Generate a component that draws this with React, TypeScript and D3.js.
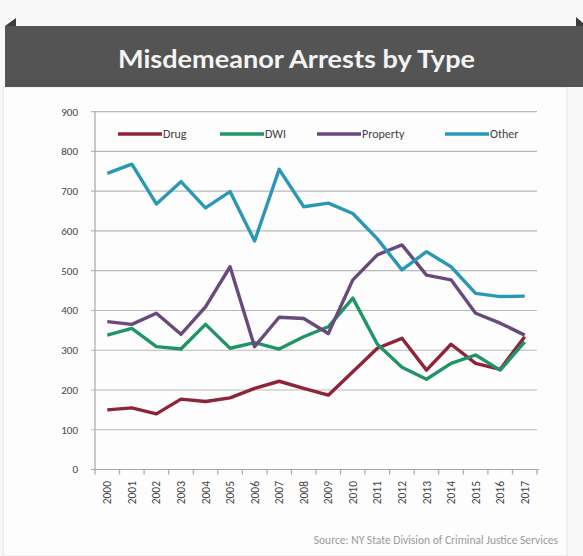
import { useEffect, useRef } from 'react';
import * as d3 from 'd3';

// Datos
const years = ['2000', '2001', '2002', '2003', '2004', '2005', '2006', '2007', '2008',
  '2009', '2010', '2011', '2012', '2013', '2014', '2015', '2016', '2017'];
const drug = [150, 155, 140, 177, 171, 180, 204, 222, 204, 187, 246, 305, 330, 250, 315, 267, 252, 334];
const dwi = [338, 355, 309, 303, 365, 305, 319, 303, 334, 359, 431, 315, 257, 227, 267, 288, 250, 321];
const property = [372, 365, 393, 340, 409, 510, 309, 383, 380, 342, 477, 540, 565, 489, 477, 393, 368, 338];
const other = [745, 768, 668, 724, 658, 699, 575, 755, 661, 670, 644, 580, 502, 548, 510, 443, 435, 436];
const yTicks = [0, 100, 200, 300, 400, 500, 600, 700, 800, 900];
const seriesNames = ['Drug', 'DWI', 'Property', 'Other'];
const seriesColors = ['#8e2438', '#1f9566', '#6a4a7c', '#2a98b4'];

const W = 583;
const H = 556;

export default function App() {
  const ref = useRef<SVGSVGElement | null>(null);

  useEffect(() => {
    const svg = d3.select(ref.current);
    svg.selectAll('*').remove();

    // fondo
    svg.append('rect').attr('width', W).attr('height', H).attr('fill', '#f8f8f8');
    svg.append('rect')
      .attr('x', 3).attr('y', 87).attr('width', 564).attr('height', H - 87)
      .attr('fill', '#fdfdfd').attr('stroke', '#e4e4e4');

    // barra de título
    svg.append('rect').attr('x', 5).attr('y', 26).attr('width', W - 5).attr('height', 61)
      .attr('fill', '#545454');
    svg.append('path').attr('d', 'M5,26 L16,18 L16,26 Z').attr('fill', '#3c3c3c');
    svg.append('path').attr('d', 'M576,26 L576,17 L583,23 L583,26 Z').attr('fill', '#3c3c3c');
    svg.append('text')
      .attr('x', 118).attr('y', 68)
      .attr('textLength', 357)
      .attr('lengthAdjust', 'spacingAndGlyphs')
      .attr('font-family', 'Lato, "Open Sans", sans-serif')
      .attr('font-weight', 700)
      .attr('font-size', 25)
      .attr('fill', '#f4f4f4')
      .text('Misdemeanor Arrests by Type');

    // Escalas
    const x = d3.scaleBand<string>().domain(years).range([95, 537]).paddingInner(0).paddingOuter(0);
    const y = d3.scaleLinear().domain([0, 900]).range([469.5, 111.7]);
    const cx = (d: string) => (x(d) as number) + x.bandwidth() / 2;

    const font = 'Carlito, "Open Sans", sans-serif';

    // rejilla y etiquetas Y
    svg.append('g').selectAll('line').data(yTicks.filter(t => t > 0)).enter().append('line')
      .attr('x1', 91).attr('x2', 537)
      .attr('y1', d => y(d)).attr('y2', d => y(d))
      .attr('stroke', '#b9b9b9').attr('stroke-width', 1.2);

    svg.append('g').selectAll('text').data(yTicks).enter().append('text')
      .attr('x', 78).attr('y', d => y(d)).attr('dy', '0.35em')
      .attr('text-anchor', 'end')
      .attr('font-family', font).attr('font-size', 11).attr('fill', '#444')
      .text(d => d);

    // ejes
    svg.append('line').attr('x1', 95).attr('x2', 95).attr('y1', y(900)).attr('y2', y(0))
      .attr('stroke', '#a8a8a8').attr('stroke-width', 1.2);
    svg.append('line').attr('x1', 91).attr('x2', 539).attr('y1', y(0)).attr('y2', y(0))
      .attr('stroke', '#a8a8a8').attr('stroke-width', 1.2);

    const edges = years.map(d => x(d) as number).concat([x.range()[1]]);
    svg.append('g').selectAll('line').data(edges).enter().append('line')
      .attr('x1', d => d).attr('x2', d => d)
      .attr('y1', y(0)).attr('y2', y(0) + 5)
      .attr('stroke', '#a8a8a8').attr('stroke-width', 1.2);

    svg.append('g').selectAll('text').data(years).enter().append('text')
      .attr('transform', d => `translate(${cx(d)},${481}) rotate(-90)`)
      .attr('dy', '0.35em')
      .attr('text-anchor', 'end')
      .attr('font-family', font).attr('font-size', 11.5).attr('fill', '#444')
      .text(d => d);

    // líneas
    const series = [drug, dwi, property, other];
    const line = d3.line<number>()
      .x((_, i) => cx(years[i]))
      .y(d => y(d));

    series.forEach((s, i) => {
      svg.append('path')
        .datum(s)
        .attr('fill', 'none')
        .attr('stroke', seriesColors[i])
        .attr('stroke-width', 3.4)
        .attr('stroke-linejoin', 'round')
        .attr('d', line);
    });

    // Leyenda
    const legendX = [118, 220, 317, 445];
    const legend = svg.append('g').selectAll('g').data(seriesNames).enter().append('g')
      .attr('transform', (_, i) => `translate(${legendX[i]},134)`);
    legend.append('line')
      .attr('x1', 0).attr('x2', 44).attr('y1', 0).attr('y2', 0)
      .attr('stroke', (_, i) => seriesColors[i]).attr('stroke-width', 3.4);
    legend.append('text')
      .attr('x', 45).attr('dy', '0.35em')
      .attr('font-family', font).attr('font-size', 12).attr('fill', '#404040')
      .text(d => d);

    // fuente
    svg.append('text')
      .attr('x', 558).attr('y', 544)
      .attr('text-anchor', 'end')
      .attr('font-family', font).attr('font-size', 11.5).attr('fill', '#9a9a9a')
      .text('Source: NY State Division of Criminal Justice Services');
  }, []);

  return (
    <div style={{ position: 'fixed', left: 0, top: 0 }}>
      <svg ref={ref} width={W} height={H} style={{ display: 'block' }}></svg>
    </div>
  );
}
